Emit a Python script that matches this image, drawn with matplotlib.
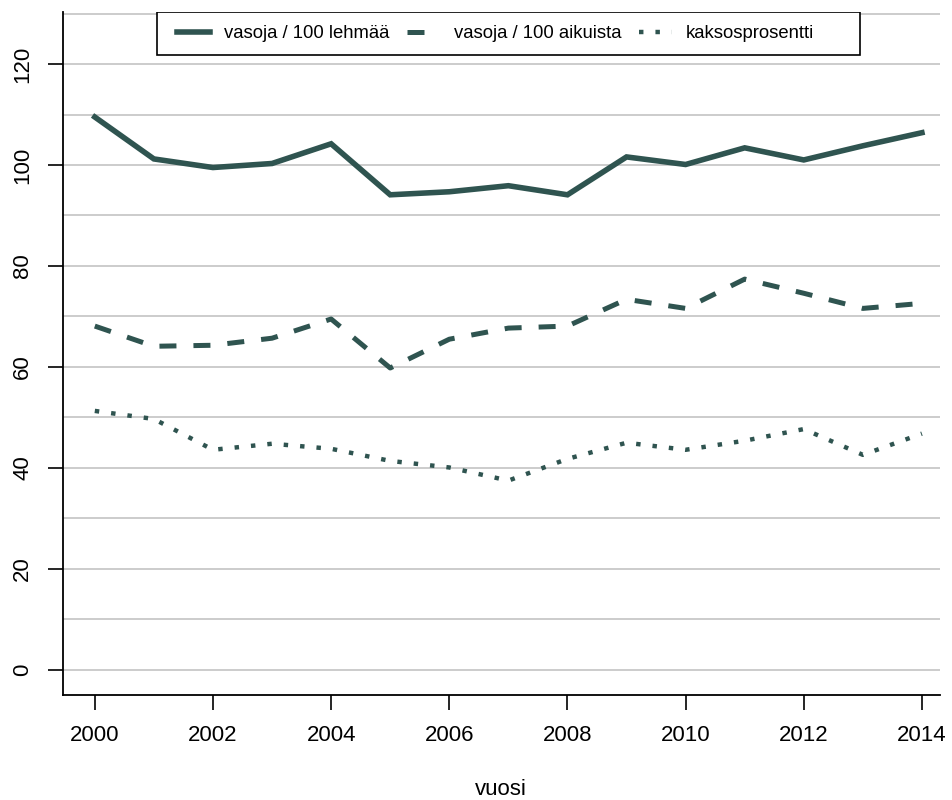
import numpy as np
import matplotlib.pyplot as plt
from matplotlib.ticker import MultipleLocator
from matplotlib.patches import Rectangle

# Vuodet ja sarjat (luettu kuvasta)
vuodet = np.arange(2000, 2015)
lehmaa = [109.5, 101.2, 99.5, 100.3, 104.2, 94.1, 94.7, 95.9, 94.1, 101.6,
          100.1, 103.4, 101.0, 103.8, 106.4]
aikuista = [68.1, 64.1, 64.3, 65.7, 69.5, 59.8, 65.5, 67.7, 68.1, 73.4,
            71.6, 77.4, 74.6, 71.6, 72.6]
kaksos = [51.3, 49.7, 43.6, 44.8, 43.8, 41.4, 40.1, 37.5, 41.8, 45.0,
          43.6, 45.4, 47.7, 42.6, 46.8]
nimet = ["vasoja / 100 lehmää", "vasoja / 100 aikuista", "kaksosprosentti"]

vari = "#2f5450"
plt.rcParams['font.family'] = ['Liberation Sans', 'DejaVu Sans']

fig = plt.figure(figsize=(9.53, 8.0), dpi=100)
ax = fig.add_axes([0.066, 0.131, 0.92, 0.854])

ax.plot(vuodet, lehmaa, color=vari, lw=4, solid_joinstyle='miter', label=nimet[0])
ax.plot(vuodet, aikuista, color=vari, lw=3.6, dashes=(3.4, 3.4), label=nimet[1])
ax.plot(vuodet, kaksos, color=vari, lw=3.2, dashes=(1.0, 2.7), label=nimet[2])

ax.set_xlim(1999.46, 2014.3)
ax.set_ylim(-5, 130.3)
ax.xaxis.set_major_locator(MultipleLocator(2))
ax.yaxis.set_major_locator(MultipleLocator(20))
ax.yaxis.set_minor_locator(MultipleLocator(10))
ax.grid(True, axis='y', which='both', color='#c8c8c8', lw=1.3)
ax.set_axisbelow(True)

for s in ['top', 'right']:
    ax.spines[s].set_visible(False)
ax.spines['left'].set_linewidth(1.3)
ax.spines['bottom'].set_linewidth(1.3)
ax.tick_params(axis='both', which='major', length=10.5, width=1.2, labelsize=16)
ax.tick_params(axis='y', which='minor', length=0)
ax.tick_params(axis='x', pad=11)
ax.tick_params(axis='y', pad=11)
for lab in ax.get_yticklabels():
    lab.set_rotation(90)
    lab.set_va('center')

ax.set_xlabel("vuosi", fontsize=16, labelpad=24)

# selitteen kehys piirretään erikseen, jotta oikealle jää tyhjää kuten kuvassa
box_x, box_w, box_h = 0.107, 0.8016, 0.063
ax.add_patch(Rectangle((box_x, 1.0 - box_h), box_w, box_h, transform=ax.transAxes,
                       facecolor='white', edgecolor='black', lw=1.2, zorder=4))
leg = ax.legend(loc='center left', bbox_to_anchor=(0.13, 1.0 - box_h / 2),
                ncol=3, fontsize=13.3, frameon=False, handlelength=1.8,
                handletextpad=0.75, columnspacing=0.95, borderpad=0.0,
                borderaxespad=0.0)
leg.set_zorder(5)

fig.savefig("out.png", dpi=100)
